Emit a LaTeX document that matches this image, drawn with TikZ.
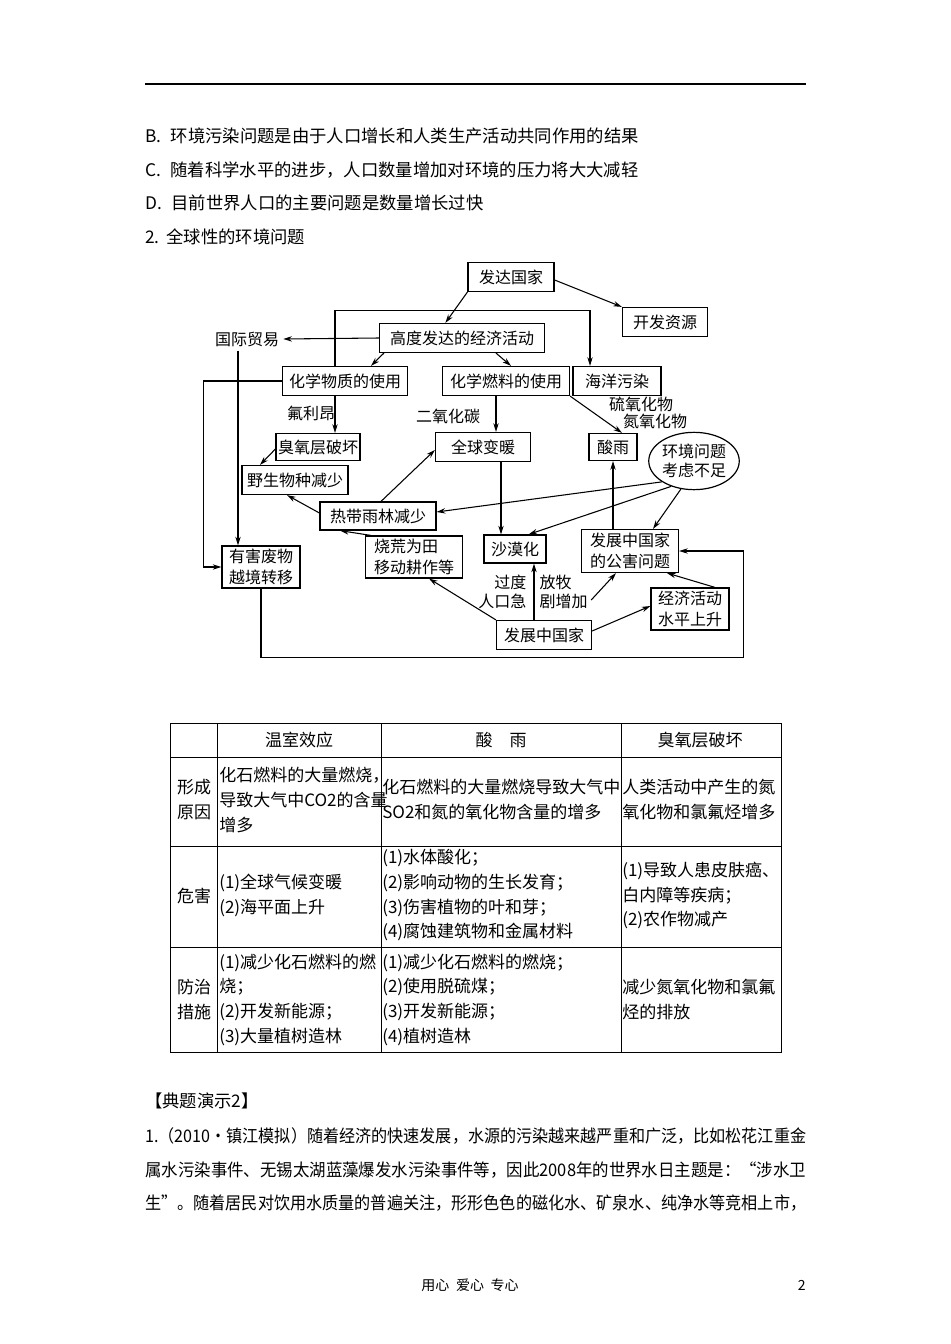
\documentclass[tikz,border=0pt]{standalone}
\usepackage{fontspec}
\usepackage{graphicx}
\setmainfont{Noto Sans CJK SC}
\usetikzlibrary{arrows.meta,calc,shapes.geometric}
\newcommand{\fitline}[1]{\resizebox{495.75pt}{\height}{#1}}
\tikzset{
 flow/.style={line width=.8pt,-{Stealth[length=6.5pt,width=4pt]}},
 block/.style={draw,line width=.9pt,fill=white,inner sep=0pt,minimum height=21.75pt,font=\fontsize{12}{15.5}\selectfont,align=center},
 wd/.style={minimum width=#1*0.75pt},
 ht/.style={minimum height=#1*0.75pt},
 bubble/.style={ellipse,draw,line width=.9pt,fill=white,inner sep=0pt,minimum width=66pt,minimum height=43pt,font=\fontsize{12}{14}\selectfont,align=center},
 note/.style={inner sep=1pt,font=\fontsize{12}{14.5}\selectfont},
 bodyline/.style={anchor=west,inner sep=0pt,font=\fontsize{13}{15}\selectfont},
 cell/.style={anchor=west,inner sep=0pt,align=left,font=\fontsize{12.75}{18.5}\selectfont},
 head/.style={inner sep=0pt,align=center,font=\fontsize{12.75}{18.5}\selectfont},
 grid/.style={line width=.6pt}
}
\begin{document}
\begin{tikzpicture}[x=0.75pt,y=-0.75pt]
\useasboundingbox (0,0) rectangle (950,1344);
\fill[white] (0,0) rectangle (950,1344);
\draw[line width=1pt] (145,84) -- (806,84);
\node[bodyline] (optb) at (145,136) {B.\hspace{7pt}环境污染问题是由于人口增长和人类生产活动共同作用的结果};
\node[bodyline] (optc) at (145,170) {C.\hspace{7pt}随着科学水平的进步，人口数量增加对环境的压力将大大减轻};
\node[bodyline] (optd) at (145,203) {D.\hspace{7pt}目前世界人口的主要问题是数量增长过快};
\node[bodyline] (item2) at (145,237) {2.\hspace{5pt}全球性的环境问题};

% diagram
\node[block,wd=86] (fada) at (511,277) {发达国家};
\node[block,wd=85] (kaifa) at (665,322) {开发资源};
\node[block,wd=165] (gaodu) at (462,338) {高度发达的经济活动};
\node[note,inner sep=3pt] (maoyi) at (247,339) {国际贸易};
\node[block,wd=125] (wuzhi) at (345,381) {化学物质的使用};
\node[block,wd=127] (ranliao) at (506,381) {化学燃料的使用};
\node[block,wd=88] (haiyang) at (617,381) {海洋污染};
\node[block,wd=84,ht=27] (chouyang) at (318,447) {臭氧层破坏};
\node[block,wd=95] (biannuan) at (483,447) {全球变暖};
\node[block,wd=48,ht=27] (suanyu) at (613,447) {酸雨};
\node[bubble] (kaolv) at (694,461) {环境问题\\考虑不足};
\node[block,wd=106] (yesheng) at (295,480) {野生物种减少};
\node[block,wd=116,ht=28] (yulin) at (378,516) {热带雨林减少};
\node[block,wd=78,ht=42] (feiwu) at (261,567) {有害废物\\越境转移};
\node[block,wd=97,ht=42,align=left] (shaohuang) at (414,557) {烧荒为田\\移动耕作等};
\node[block,wd=62,ht=28] (shamo) at (515,549) {沙漠化};
\node[block,wd=97,ht=43] (gonghai) at (630,551) {发展中国家\\的公害问题};
\node[block,wd=95] (fazhan) at (544,635) {发展中国家};
\node[block,wd=78,ht=42] (jingji) at (690,609) {经济活动\\水平上升};
\node[note] (fuli) at (311,413) {氟利昂};
\node[note] (co2) at (448,416) {二氧化碳};
\node[note] (liu) at (641,404) {硫氧化物};
\node[note] (dan) at (655,421) {氮氧化物};
\node[note,anchor=east,align=right] (guodu) at (528,592) {过度\\人口急};
\node[note,anchor=west,align=left] (fangmu) at (538,592) {放牧\\剧增加};

\coordinate (wzup) at ($(wuzhi.north)+(-10,0)$);
\coordinate (wzdown) at ($(wuzhi.south)+(-10,0)$);
\coordinate (rl) at ($(ranliao.south)+(-10,0)$);
\coordinate (bn) at ($(biannuan.south)+(18,0)$);
\coordinate (gh) at ($(gonghai.north)+(-17,0)$);
\coordinate (fz) at ($(fazhan.north)+(-10,0)$);
\coordinate (my) at ($(maoyi.south)+(-9,0)$);

\draw[flow] (fada.south west) -- ($(gaodu.north west)!.4!(gaodu.north east)$);
\draw[flow] ($(fada.east)+(0,3)$) -- (kaifa.north west);
\draw[flow] (gaodu.west) -- (maoyi.east);
\draw[flow] ($(gaodu.south west)+(5,0)$) -- ($(wuzhi.north)+(26,0)$);
\draw[flow] ($(gaodu.south)+(34,0)$) -- ($(ranliao.north)+(5,0)$);
\draw[flow] (wzup) -- ++(0,-55) -| ($(haiyang.north)+(-27,0)$);
\draw[flow] (wzdown) -- (wzdown |- chouyang.north);
\draw[flow] (rl) -- (rl |- biannuan.north);
\draw[flow] (ranliao.south east) -- ($(suanyu.north)+(9,0)$);
\draw[flow] ($(chouyang.west)+(0,2)$) -- ($(yesheng.north)+(-35,0)$);
\draw[flow] ($(yulin.west)+(0,-3)$) -- ($(yesheng.south)+(-8,0)$);
\draw[flow] ($(yulin.north)+(3,0)$) -- ($(biannuan.west)+(0,3)$);
\draw[flow] (bn) -- (bn |- shamo.north);
\draw[flow] (kaolv.213) -- ($(yulin.east)+(0,-4)$);
\draw[flow] (kaolv.228) -- ($(shamo.north east)+(-18,0)$);
\draw[flow] (kaolv.245) -- ($(gonghai.north)+(23,0)$);
\draw[flow] (gh) -- (gh |- suanyu.south);
\draw[flow] (fz) -- (fz |- shamo.south);
\draw[flow] (fazhan.north west) -- ($(shaohuang.south)+(15,0)$);
\draw[flow] ($(shaohuang.north west)+(6,0)$) -- ($(yulin.south)+(-38,0)$);
\draw[flow] ($(fangmu.east)+(2,8)$) -- ($(gonghai.south)+(-14,0)$);
\draw[flow] ($(fazhan.east)+(0,-4)$) -- ($(jingji.west)+(0,-3)$);
\draw[flow] ($(jingji.north)+(25,0)$) -- ($(gonghai.south east)+(-12,0)$);
\draw[flow] (feiwu.south) -- ++(0,69) -| ($(gonghai.east)+(64,0)$) -- (gonghai.east);
\draw[flow] (my) -- (my |- feiwu.north);
\draw[flow] (wuzhi.west) -- ++(-78,0) |- (feiwu.west);

% table
\draw[grid] (170,723) rectangle (781,1052);
\foreach \x in {217,381,621} \draw[grid] (\x,723) -- (\x,1052);
\foreach \y in {757,846,947} \draw[grid] (170,\y) -- (781,\y);
\node[head] (hwen) at (299,740) {温室效应};
\node[head] (hsuan) at (501,740) {酸\quad 雨};
\node[head] (hchou) at (700,740) {臭氧层破坏};
\node[head] (rcause) at (194,799.5) {形成\\原因};
\node[head] (rharm) at (194,896) {危害};
\node[head] (rcure) at (194,999.5) {防治\\措施};
\node[cell] at (219,800) {化石燃料的大量燃烧，\\导致大气中CO2的含量\\增多};
\node[cell] at (382,799.5) {化石燃料的大量燃烧导致大气中\\SO2和氮的氧化物含量的增多};
\node[cell] at (622,799.5) {人类活动中产生的氮\\氧化物和氯氟烃增多};
\node[cell] at (219,895.5) {(1)全球气候变暖\\(2)海平面上升};
\node[cell] at (382,895.5) {(1)水体酸化；\\(2)影响动物的生长发育；\\(3)伤害植物的叶和芽；\\(4)腐蚀建筑物和金属材料};
\node[cell] at (622,895.5) {(1)导致人患皮肤癌、\\白内障等疾病；\\(2)农作物减产};
\node[cell] at (219,999.5) {(1)减少化石燃料的燃\\烧；\\(2)开发新能源；\\(3)大量植树造林};
\node[cell] at (382,999.5) {(1)减少化石燃料的燃烧；\\(2)使用脱硫煤；\\(3)开发新能源；\\(4)植树造林};
\node[cell] at (622,999.5) {减少氮氧化物和氯氟\\烃的排放};

% text below
\node[bodyline] (demo) at (145,1101) {【典题演示2】};
\node[bodyline] (para1) at (145,1136) {\fitline{1.（2010·镇江模拟）随着经济的快速发展，水源的污染越来越严重和广泛，比如松花江重金}};
\node[bodyline] (para2) at (145,1170) {\fitline{属水污染事件、无锡太湖蓝藻爆发水污染事件等，因此2008年的世界水日主题是：“涉水卫}};
\node[bodyline] (para3) at (145,1203) {\fitline{生”。随着居民对饮用水质量的普遍关注，形形色色的磁化水、矿泉水、纯净水等竞相上市，}};
\node[inner sep=0pt,font=\fontsize{10.5}{12}\selectfont] (motto) at (470,1285) {用心\hspace{5pt}爱心\hspace{5pt}专心};
\node[inner sep=0pt,anchor=east,font=\fontsize{10.5}{12}\selectfont] (pageno) at (806,1285) {2};
\end{tikzpicture}
\end{document}
